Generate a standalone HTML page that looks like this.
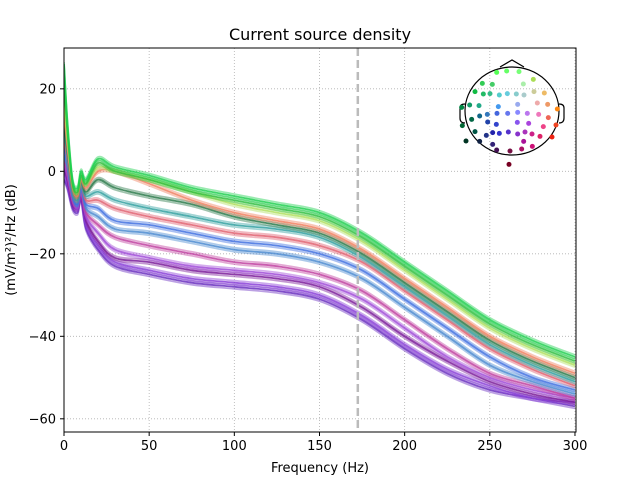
<!DOCTYPE html>
<html><head><meta charset="utf-8"><style>
body{margin:0;background:#fff}
svg{display:block;font-family:"DejaVu Sans","Liberation Sans",sans-serif}
</style></head><body>
<svg id="chart" width="640" height="480" viewBox="0 0 640 480">
<rect width="640" height="480" fill="#fff"/>
<text x="320" y="40" text-anchor="middle" font-size="16">Current source density</text>
<g id="grid"></g>
<g id="lines" clip-path="url(#clip)"></g>
<defs><clipPath id="clip"><rect x="64" y="48" width="512" height="384"/></clipPath></defs>
<rect x="64" y="48" width="512" height="384" fill="none" stroke="#000" stroke-width="1"/>
<g id="ticks"></g>
<text x="320" y="472" text-anchor="middle" font-size="13">Frequency (Hz)</text>
<text transform="translate(15,240) rotate(-90)" text-anchor="middle" font-size="13">(mV/m²)²/Hz (dB)</text>
<g id="head"></g>
</svg>
<script>
const freqs=[0,2,5,8,10,13,20,30,50,75,100,125,150,175,200,225,250,275,300];
const s1=[26,12,-2,-4,0,-2,3,1,-1,-4,-6,-8,-10,-15,-22,-29,-36,-41,-45];
const s2=[22,10,-3,-5,-1,-3,2,0,-2,-5,-7,-9,-11,-16,-23,-30,-37,-42,-46];
const s3=[18,8,-3,-5,-1,-3,1,0,-2,-5,-8,-10,-12,-17,-24,-31,-38,-43,-47];
const s4=[15,6,-4,-6,-2,-4,0,0,-3,-7,-10,-12,-14,-19,-26,-33,-40,-45,-49];
const s5=[12,5,-4,-6,-2,-5,-2,-4,-6,-8,-11,-13,-15,-20,-27,-34,-41,-46,-50];
const s6=[10,4,-5,-7,-3,-6,-5,-7,-9,-11,-13,-14,-16,-21,-28,-35,-42,-47,-51];
const s7=[8,3,-5,-7,-3,-7,-7,-9,-11,-13,-15,-16,-18,-22,-29,-36,-43,-48,-52];
const s8=[6,2,-6,-8,-4,-8,-9,-12,-13,-15,-17,-18,-20,-24,-31,-38,-45,-50,-53];
const s9=[4,1,-6,-8,-4,-9,-11,-14,-15,-17,-19,-20,-22,-26,-33,-40,-47,-51,-54];
const s10=[3,0,-7,-8,-5,-10,-13,-16,-18,-20,-22,-23,-25,-29,-36,-43,-49,-52,-55];
const s11=[2,-1,-7,-9,-5,-11,-15,-19,-21,-23,-24,-25,-27,-31,-38,-45,-50,-53,-55];
const s12=[1,-2,-8,-9,-6,-12,-17,-21,-22,-24,-25,-26,-28,-33,-40,-46,-51,-54,-56];
const s13=[0,-3,-8,-9,-6,-13,-18,-22,-24,-26,-27,-28,-30,-35,-42,-48,-52,-55,-56];
const s14=[-2,-4,-9,-10,-7,-14,-19,-23,-25,-27,-28,-29,-31,-36,-43,-49,-53,-55,-57];
const series=[s14,s13,s12,s11,s10,s9,s8,s7,s6,s5,s4,s3,s2,s1];
const colors=["#6a2fc0","#8a3fd8","#7a1a9a","#a04ad8","#c040a0","#4a8ad0","#4070e0","#e06070","#30a0a0","#2a7a4a","#f08060","#b0e060","#30c040","#20d050"];
const xTicks=[0,50,100,150,200,250,300];
const yTicks=[20,0,-20,-40,-60];
const vline=172.5;
const sensors=[[125,52,"#5f5"],[155,48,"#6f6"],[192,50,"#7f7"],[235,73,"#ad5"],[82,85,"#3c5"],[112,88,"#4c6"],[205,87,"#aea"],[60,110,"#1b4"],[85,117,"#2b6"],[105,116,"#3b8"],[133,120,"#5cc"],[157,116,"#6cd"],[184,117,"#8cc"],[207,120,"#acc"],[237,110,"#cc9"],[268,114,"#eb6"],[20,157,"#084"],[44,150,"#196"],[72,152,"#2a8"],[130,155,"#49e"],[188,148,"#9ae"],[247,144,"#eaa"],[278,148,"#e96"],[307,162,"#f81"],[50,193,"#064"],[74,183,"#168"],[97,178,"#37b"],[126,175,"#46d"],[158,175,"#67e"],[188,172,"#88f"],[217,175,"#b7e"],[251,178,"#e7b"],[280,188,"#e65"],[22,212,"#063"],[98,201,"#24a"],[124,208,"#34c"],[187,202,"#85e"],[221,205,"#a4d"],[265,215,"#e48"],[303,210,"#e42"],[60,230,"#054"],[94,241,"#238"],[113,233,"#22a"],[133,235,"#33c"],[160,231,"#53c"],[188,237,"#83c"],[210,231,"#a3b"],[231,237,"#c28"],[255,244,"#d26"],[291,246,"#e21"],[33,258,"#032"],[74,259,"#124"],[113,268,"#327"],[206,259,"#a19"],[125,285,"#415"],[165,288,"#714"],[200,282,"#a16"],[232,274,"#c17"],[162,328,"#702"]];

const NS="http://www.w3.org/2000/svg";
const X=f=>64+(f/300.6)*512;
const Y=v=>48+(29.9-v)*(384/93.1);
function mk(t,a,p){const e=document.createElementNS(NS,t);for(const k in a)e.setAttribute(k,a[k]);p.appendChild(e);return e;}
function smooth(pts){
 let d='M'+pts[0][0].toFixed(1)+','+pts[0][1].toFixed(1);
 for(let i=0;i<pts.length-1;i++){
  const p0=pts[Math.max(0,i-1)],p1=pts[i],p2=pts[i+1],p3=pts[Math.min(pts.length-1,i+2)];
  const c1x=p1[0]+(p2[0]-p0[0])/6,c1y=p1[1]+(p2[1]-p0[1])/6;
  const c2x=p2[0]-(p3[0]-p1[0])/6,c2y=p2[1]-(p3[1]-p1[1])/6;
  d+=' C'+c1x.toFixed(1)+','+c1y.toFixed(1)+' '+c2x.toFixed(1)+','+c2y.toFixed(1)+' '+p2[0].toFixed(1)+','+p2[1].toFixed(1);
 }
 return d;
}
const fmt=t=>t<0?'\u2212'+(-t):String(t);
const grid=document.getElementById('grid'),ticks=document.getElementById('ticks'),lines=document.getElementById('lines'),head=document.getElementById('head');
xTicks.forEach(t=>{
 const g=mk('line',{x1:X(t),x2:X(t),y1:48,y2:432,stroke:'#b0b0b0','stroke-width':0.8,'stroke-dasharray':'1,2'},grid);
 
 
 mk('line',{x1:X(t),x2:X(t),y1:432,y2:436,stroke:'#000'},ticks);
 const l=mk('text',{x:X(t),y:450,'text-anchor':'middle','font-size':13},ticks);l.textContent=fmt(t);
 
 
});
yTicks.forEach(t=>{
 const g=mk('line',{x1:64,x2:576,y1:Y(t),y2:Y(t),stroke:'#b0b0b0','stroke-width':0.8,'stroke-dasharray':'1,2'},grid);
 
 
 mk('line',{x1:60,x2:64,y1:Y(t),y2:Y(t),stroke:'#000'},ticks);
 const l=mk('text',{x:56,y:Y(t)+4.5,'text-anchor':'end','font-size':13},ticks);l.textContent=fmt(t);
 
 
});
series.forEach((s,i)=>{
 const d=smooth(s.map((v,j)=>[X(freqs[j]),Y(v)]));
 [[-2,0.45],[0,0.85],[2,0.45]].forEach(([o,op])=>{
  const p=mk('path',{d:d,fill:'none',stroke:colors[i],'stroke-width':1.8,'stroke-opacity':op,transform:'translate(0,'+o+')','stroke-linejoin':'round'},lines);
  
  
 });
});
const vl=mk('line',{x1:X(vline),x2:X(vline),y1:48,y2:432,stroke:'#bbb','stroke-width':2.5,'stroke-dasharray':'8,4'},lines);


mk('path',{d:'M500,67 L512,60 L524,67',fill:'none',stroke:'#000','stroke-width':1.2},head);
mk('ellipse',{cx:512,cy:111,rx:47,ry:44,fill:'none',stroke:'#000','stroke-width':1.2},head);
mk('path',{d:'M465,104 q-5,0 -5,4 v10 q0,5 5,5',fill:'none',stroke:'#000','stroke-width':1.2},head);
mk('path',{d:'M559,104 q5,0 5,4 v10 q0,5 -5,5',fill:'none',stroke:'#000','stroke-width':1.2},head);
sensors.forEach(s=>{
 const c=mk('circle',{cx:455+s[0]/3,cy:55+s[1]/3,r:2.5,fill:s[2]},head);
 
 
});
</script>
</body></html>
